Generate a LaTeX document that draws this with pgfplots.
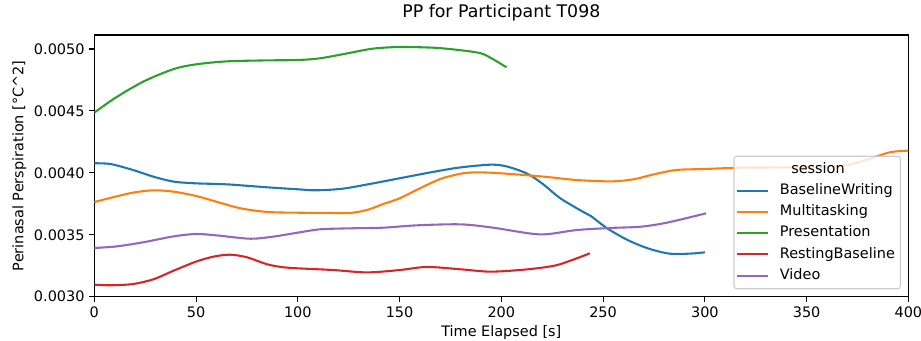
\documentclass[border=0pt]{standalone}
\usepackage{fontspec}
\setmainfont{DejaVu Sans}
\usepackage{pgfplots}
\pgfplotsset{compat=1.18}
\definecolor{c0}{HTML}{1F77B4}
\definecolor{c1}{HTML}{FF7F0E}
\definecolor{c2}{HTML}{2CA02C}
\definecolor{c3}{HTML}{D62728}
\definecolor{c4}{HTML}{9467BD}
\begin{document}
\begin{tikzpicture}
\begin{axis}[
  name=ax,
  scale only axis,
  width=586.1pt, height=188.4pt,
  xmin=0, xmax=400, ymin=0.003, ymax=0.005113,
  xtick={0,50,100,150,200,250,300,350,400},
  ytick={0.003,0.0035,0.004,0.0045,0.005},
  scaled y ticks=false,
  yticklabel style={/pgf/number format/.cd, fixed, fixed zerofill, precision=4},
  /pgf/number format/assume math mode=true,
  tick align=outside,
  major tick length=3.5pt,
  tick style={black, line width=0.8pt},
  axis line style={line width=0.8pt},
  xtick pos=bottom, ytick pos=left,
  tick label style={font=\fontsize{10.4}{12.5}\selectfont},
  title={PP for Participant T098},
  title style={font=\fontsize{12.5}{15}\selectfont, at={(axis description cs:0.5,1.0536)}, anchor=center},
  xlabel={Time Elapsed [s]},
  xlabel style={font=\fontsize{10.4}{12.5}\selectfont, at={(axis description cs:0.5,-0.1387)}, anchor=center},
  ylabel={Perinasal Perspiration [°C\textasciicircum2]},
  ylabel style={font=\fontsize{10.4}{12.5}\selectfont, at={(axis description cs:-0.0921,0.5)}, anchor=center},
  legend cell align=left,
  legend image code/.code={\draw[#1] (0pt,0pt) -- (22.5pt,0pt);},
  legend style={at={(axis description cs:0.991,0.028)}, anchor=south east,
    draw=black!20, line width=0.8pt, rounded corners=2pt, fill=white, fill opacity=0.8, text opacity=1,
    font=\fontsize{10.4}{12.5}\selectfont, inner xsep=1.5pt, inner ysep=1.8pt, column sep=5pt,
    nodes={inner xsep=2.5pt, inner ysep=2.45pt, text height=7.8pt, text depth=2.6pt}},
  every axis plot/.append style={line width=1.5pt, smooth, no markers},
]
\addlegendimage{empty legend}
\addlegendentry{\hspace*{8.2pt}session}
\addplot[c0] coordinates {
(0,0.004077) (8,0.004071) (19,0.004023) (29,0.003969) (39,0.003929) (50,0.003915)
(65,0.003907) (85,0.003883) (100,0.003867) (109,0.003859) (122,0.003872) (137,0.003915)
(150,0.003956) (167,0.004009) (180,0.004044) (195,0.004066) (203,0.00405) (213,0.003991)
(221,0.003902) (229,0.003794) (240.6,0.003681) (244,0.003651) (252,0.003552) (262,0.003458)
(272,0.00339) (281.5,0.00335) (288,0.003345) (295,0.00335) (300,0.003358)};
\addlegendentry{BaselineWriting}
\addplot[c1] coordinates {
(0,0.003764) (9,0.003802) (19,0.00384) (29,0.003859) (39,0.003848) (50,0.003813)
(60,0.003767) (72,0.003713) (85,0.003684) (100,0.003678) (117,0.003676) (126,0.003676)
(134,0.0037) (142,0.003748) (150,0.003794) (160,0.003875) (170,0.00395) (180,0.003993)
(188,0.004004) (200,0.003996) (221,0.003969) (237,0.003942) (254,0.003931) (265,0.003948)
(275,0.003988) (286,0.004023) (300,0.004031) (319,0.004042) (344,0.004045) (368,0.004058)
(380,0.004109) (391,0.004166) (400,0.004179)};
\addlegendentry{Multitasking}
\addplot[c2] coordinates {
(0,0.004486) (10,0.004602) (24,0.004736) (39,0.004838) (50,0.004876) (65,0.0049)
(85,0.004908) (100,0.004911) (111,0.004925) (126,0.00497) (137,0.005003) (150,0.005016)
(167,0.00501) (180,0.00499) (190,0.004965) (196,0.004917) (202.5,0.004852)};
\addlegendentry{Presentation}
\addplot[c3] coordinates {
(0,0.003097) (8,0.003092) (19,0.003102) (29,0.00314) (39,0.00321) (50,0.003283)
(58.5,0.003323) (66.7,0.003339) (75,0.003318) (85,0.003261) (93,0.003237) (100,0.003229)
(117.5,0.003215) (134,0.003196) (150,0.003215) (163.4,0.00324) (180,0.003221) (195,0.003202)
(213,0.003221) (226,0.00325) (234,0.003291) (243.5,0.00335)};
\addlegendentry{RestingBaseline}
\addplot[c4] coordinates {
(0,0.003393) (11,0.003406) (24,0.003439) (39,0.003487) (50,0.003506) (60,0.003495)
(76.6,0.003468) (88,0.003485) (100,0.003517) (111,0.003544) (126,0.003552) (142,0.003557)
(158.5,0.003576) (180,0.003584) (196,0.003557) (219,0.003503) (237,0.003538) (254,0.003555)
(268.5,0.003565) (281.5,0.003598) (300.6,0.003673)};
\addlegendentry{Video}
\end{axis}
\pgfresetboundingbox
\path[use as bounding box] ([xshift=-67.9pt,yshift=-31.2pt]ax.south west) rectangle ([xshift=9.1pt,yshift=25.2pt]ax.north east);
\end{tikzpicture}
\end{document}
